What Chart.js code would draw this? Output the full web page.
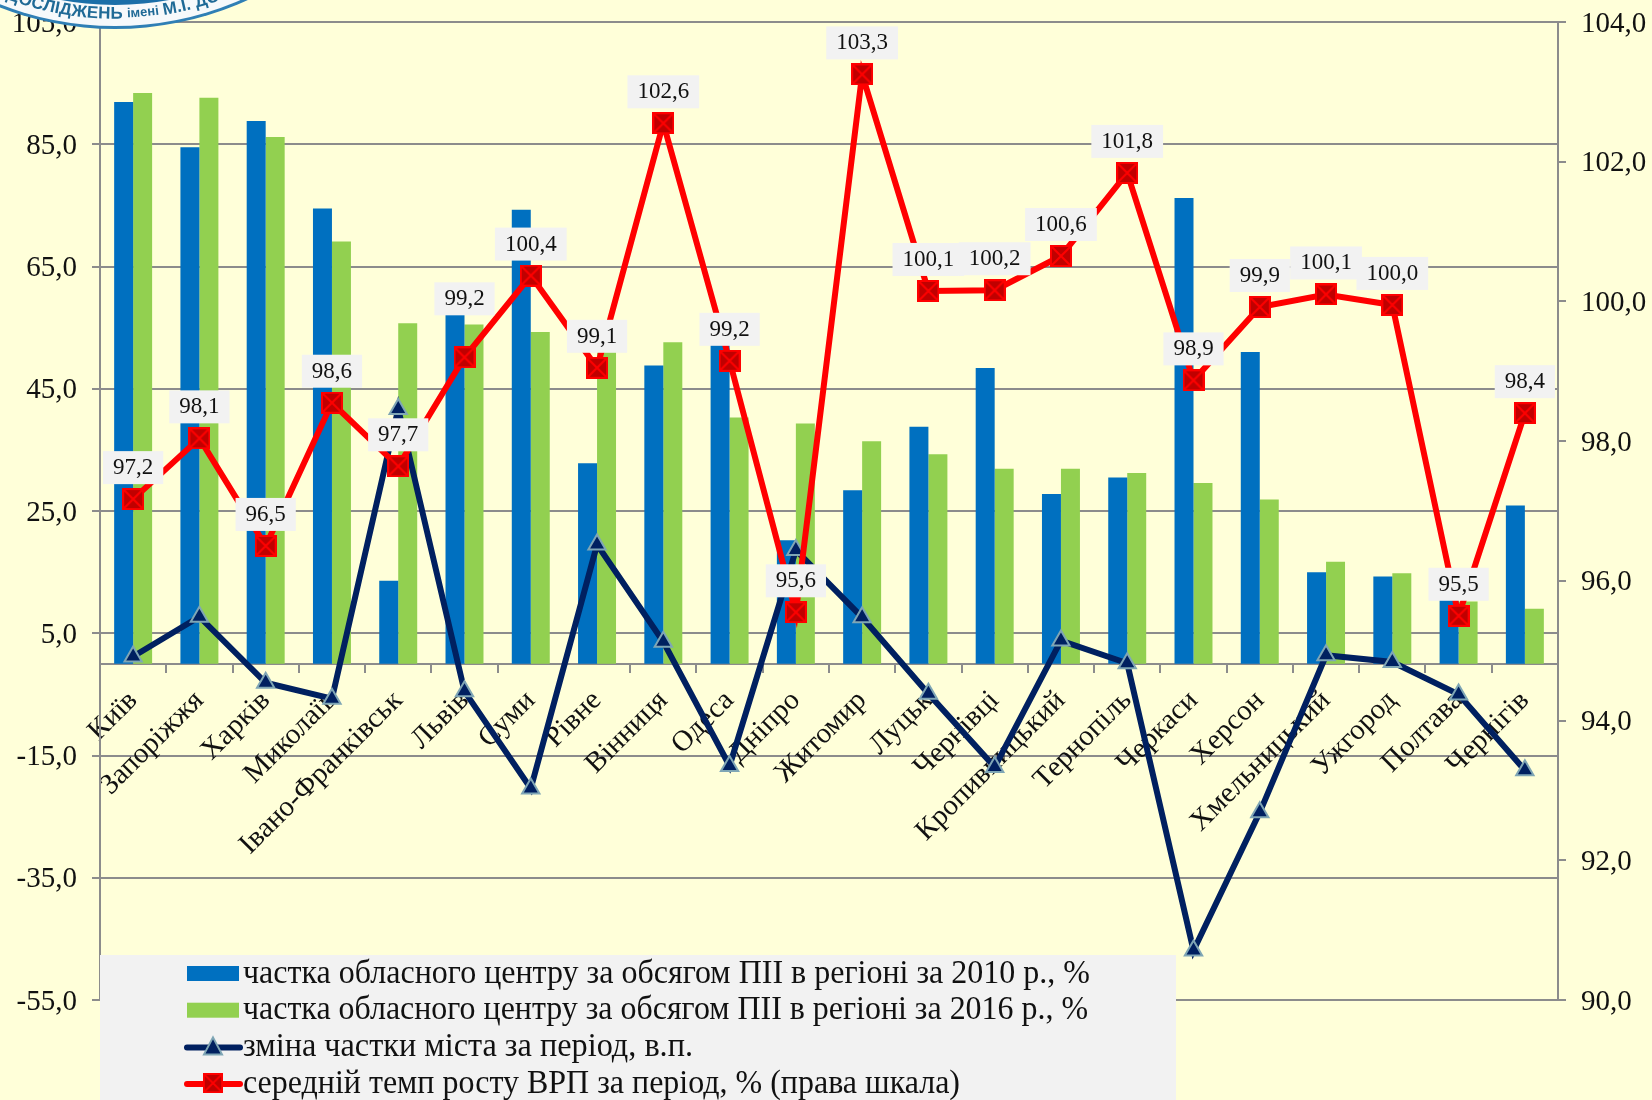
<!DOCTYPE html>
<html>
<head>
<meta charset="utf-8">
<script src="https://cdn.jsdelivr.net/npm/chart.js@4"></script>
<style>
  html, body { margin: 0; padding: 0; background: #FFFFD9; }
  #wrap { width: 1652px; height: 1100px; position: relative; }
</style>
</head>
<body>
<div id="wrap"><canvas id="chart" width="1652" height="1100"></canvas></div>
<script>
const cities = ['Київ', 'Запоріжжя', 'Харків', 'Миколаїв', 'Івано-Франківськ', 'Львів', 'Суми', 'Рівне', 'Вінниця', 'Одеса', 'Дніпро', 'Житомир', 'Луцьк', 'Чернівці', 'Кропивницький', 'Тернопіль', 'Черкаси', 'Херсон', 'Хмельницький', 'Ужгород', 'Полтава', 'Чернігів'];
const share2010 = [91.9, 84.5, 88.8, 74.5, 13.6, 58.0, 74.3, 32.8, 48.8, 52.4, 20.2, 28.4, 38.8, 48.4, 27.8, 30.5, 76.2, 51.0, 15.0, 14.3, 10.7, 25.9];
const share2016 = [93.4, 92.6, 86.2, 69.1, 55.7, 55.5, 54.3, 51.0, 52.6, 40.3, 39.3, 36.4, 34.3, 31.9, 31.9, 31.2, 29.6, 26.9, 16.7, 14.8, 10.2, 9.0];
const shareChange = [1.2, 7.7, -3.1, -5.7, 41.7, -4.5, -20.4, 19.5, 3.6, -16.7, 18.6, 7.6, -4.9, -16.9, 3.8, 0.1, -46.9, -24.3, 1.4, 0.3, -5.0, -17.4];
const grpGrowth = [97.17, 98.04, 96.5, 98.55, 97.64, 99.2, 100.37, 99.05, 102.55, 99.15, 95.55, 103.25, 100.15, 100.16, 100.65, 101.84, 98.87, 99.92, 100.1, 99.95, 95.5, 98.4];
const grpLabels = ['97,2', '98,1', '96,5', '98,6', '97,7', '99,2', '100,4', '99,1', '102,6', '99,2', '95,6', '103,3', '100,1', '100,2', '100,6', '101,8', '98,9', '99,9', '100,1', '100,0', '95,5', '98,4'];
const leftTicks = [-55, -35, -15, 5, 25, 45, 65, 85, 105];
const rightTicks = [90, 92, 94, 96, 98, 100, 102, 104];
const legendNames = [
  'частка обласного центру за обсягом ПІІ в регіоні за 2010 р., %',
  'частка обласного центру за обсягом ПІІ в регіоні за 2016 р., %',
  'зміна частки міста за період, в.п.',
  'середній темп росту ВРП за період, % (права шкала)'
];

const FONT = '"Liberation Serif", serif';
const GRID = '#8C8C8C';
const fmt = v => Number(v).toFixed(1).replace('.', ',');

// dark red square with a red cross, used as the point style of the red line
function makeRedMarker() {
  const c = document.createElement('canvas');
  c.width = 22;
  c.height = 22;
  const g = c.getContext('2d');
  g.fillStyle = '#C00000';
  g.fillRect(0, 0, 22, 22);
  g.strokeStyle = '#FF0000';
  g.lineWidth = 2;
  g.strokeRect(1, 1, 20, 20);
  g.beginPath();
  g.moveTo(1, 1);
  g.lineTo(21, 21);
  g.moveTo(21, 1);
  g.lineTo(1, 21);
  g.stroke();
  return c;
}
const redMarker = makeRedMarker();

// value boxes above the red line
const valueBoxes = {
  id: 'valueBoxes',
  afterDatasetsDraw(chart) {
    const {ctx} = chart;
    const meta = chart.getDatasetMeta(3);
    ctx.save();
    ctx.font = '23px ' + FONT;
    ctx.textAlign = 'center';
    ctx.textBaseline = 'middle';
    meta.data.forEach((pt, i) => {
      // the Lviv label was moved up by hand in the original
      const x = pt.x, y = pt.y - (cities[i] === 'Львів' ? 59 : 32);
      const label = grpLabels[i];
      const w = ctx.measureText(label).width + 20;
      ctx.fillStyle = '#F2F2F2';
      ctx.fillRect(x - w / 2, y - 16, w, 33);
      ctx.fillStyle = '#111';
      ctx.fillText(label, x, y + 1);
    });
    ctx.restore();
  }
};

// legend panel sits over the bottom of the plot, so it is drawn by hand
const legendPanel = {
  id: 'legendPanel',
  afterDraw(chart) {
    const {ctx} = chart;
    const colors = ['#0070C0', '#92D050', '#002060', '#FF0000'];
    const widths = [847, 845, 450, 717];
    ctx.save();
    ctx.fillStyle = '#F2F2F2';
    ctx.fillRect(100, 955, 1076, 145);
    ctx.font = '33px ' + FONT;
    ctx.textBaseline = 'middle';
    legendNames.forEach((name, i) => {
      const y = 973 + i * 36.7;
      if (i < 2) {
        ctx.fillStyle = colors[i];
        ctx.fillRect(187, y - 7, 52, 15);
      } else {
        ctx.strokeStyle = colors[i];
        ctx.lineWidth = 6;
        ctx.lineCap = 'round';
        ctx.beginPath();
        ctx.moveTo(187, y + 1);
        ctx.lineTo(240, y + 1);
        ctx.stroke();
        if (i === 2) {
          ctx.fillStyle = colors[i];
          ctx.strokeStyle = '#7FA6B5';
          ctx.lineWidth = 2;
          ctx.beginPath();
          ctx.moveTo(213, y - 9);
          ctx.lineTo(222, y + 8);
          ctx.lineTo(204, y + 8);
          ctx.closePath();
          ctx.fill();
          ctx.stroke();
        } else {
          ctx.drawImage(redMarker, 203, y - 10, 20, 20);
        }
      }
      ctx.fillStyle = '#111';
      ctx.fillText(name, 243, y + 1, widths[i]);
    });
    ctx.restore();
  }
};

// institute seal cut off by the top edge of the picture
const seal = {
  id: 'seal',
  afterDraw(chart) {
    const {ctx} = chart;
    const cx = 115, cy = -290;
    const disc = (r, color) => {
      ctx.beginPath();
      ctx.arc(cx, cy, r, 0, Math.PI * 2);
      ctx.fillStyle = color;
      ctx.fill();
    };
    ctx.save();
    disc(319, '#2F7FB5');
    disc(316, '#F6F9FB');
    disc(295, '#1B6FA8');
    ctx.fillStyle = '#1F6A96';
    ctx.textAlign = 'center';
    ctx.textBaseline = 'middle';
    const parts = [
      ['ДОСЛІДЖЕНЬ', 'bold 17px "Liberation Sans", sans-serif', 5],
      ['імені', 'bold 13px "Liberation Sans", sans-serif', 127],
      ['М.І. ДОЛІШНЬОГО', 'bold 17px "Liberation Sans", sans-serif', 163]
    ];
    const R = 304;
    parts.forEach(([text, font, startX]) => {
      ctx.font = font;
      // angle measured from the bottom of the circle, growing to the right
      let a = (startX - cx) / R;
      [...text].forEach(ch => {
        const w = ctx.measureText(ch).width;
        const mid = a + w / 2 / R;
        ctx.save();
        ctx.translate(cx + R * Math.sin(mid), cy + R * Math.cos(mid));
        ctx.rotate(-mid);
        ctx.fillText(ch, 0, 0);
        ctx.restore();
        a += w / R;
      });
    });
    ctx.restore();
  }
};

new Chart(document.getElementById('chart'), {
  data: {
    labels: cities,
    datasets: [
      {type: 'bar', label: legendNames[0], data: share2010, backgroundColor: '#0070C0', yAxisID: 'y', order: 3, barPercentage: 1, categoryPercentage: 0.573},
      {type: 'bar', label: legendNames[1], data: share2016, backgroundColor: '#92D050', yAxisID: 'y', order: 3, barPercentage: 1, categoryPercentage: 0.573},
      {type: 'line', label: legendNames[2], data: shareChange, borderColor: '#002060', borderWidth: 6, tension: 0, pointStyle: 'triangle', pointRadius: 10, pointBackgroundColor: '#002060', pointBorderColor: '#7FA6B5', pointBorderWidth: 2, yAxisID: 'y', order: 2},
      {type: 'line', label: legendNames[3], data: grpGrowth, borderColor: '#FF0000', borderWidth: 6, tension: 0, pointStyle: redMarker, pointRadius: 11, yAxisID: 'y1', order: 1}
    ]
  },
  plugins: [valueBoxes, legendPanel, seal],
  options: {
    responsive: false,
    animation: false,
    layout: {padding: {top: 22, bottom: 100, left: 0, right: 0}},
    plugins: {legend: {display: false}, tooltip: {enabled: false}},
    scales: {
      x: {
        position: {y: 0},
        z: 1,
        grid: {drawOnChartArea: false, tickLength: 8, color: GRID, lineWidth: 2},
        border: {color: GRID, width: 2},
        ticks: {autoSkip: false, maxRotation: 45, minRotation: 45, color: '#111', font: {family: FONT, size: 29}, padding: 12}
      },
      y: {
        position: 'left',
        min: -55,
        max: 105,
        afterBuildTicks: scale => { scale.ticks = leftTicks.map(v => ({value: v})); },
        afterFit: scale => { scale.width = 100; scale.paddingTop = 0; scale.paddingBottom = 0; },
        grid: {color: GRID, lineWidth: 2, tickLength: 8},
        border: {color: GRID, width: 2},
        ticks: {color: '#111', font: {family: FONT, size: 29}, padding: 15, labelOffset: 2, callback: fmt}
      },
      y1: {
        position: 'right',
        min: 90,
        max: 104,
        afterBuildTicks: scale => { scale.ticks = rightTicks.map(v => ({value: v})); },
        afterFit: scale => { scale.width = 94; scale.paddingTop = 0; scale.paddingBottom = 0; },
        grid: {drawOnChartArea: false, color: GRID, lineWidth: 2, tickLength: 8},
        border: {color: GRID, width: 2},
        ticks: {color: '#111', font: {family: FONT, size: 29}, padding: 15, labelOffset: 2, callback: fmt}
      }
    }
  }
});
</script>
</body>
</html>
